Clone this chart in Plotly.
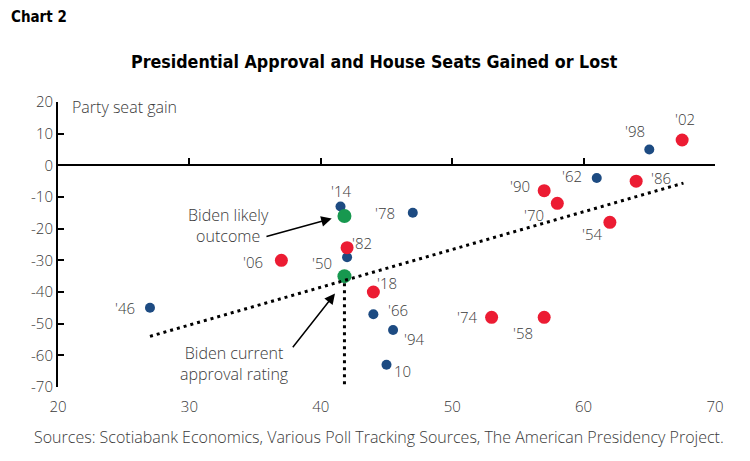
import plotly.graph_objects as go

# midterm years, October presidential approval, president's party seat change
years = ["'46", "'50", "'54", "'58", "'62", "'66", "'70", "'74", "'78", "'82",
         "'86", "'90", "'94", "'98", "'02", "'06", "10", "'14", "'18"]
approval = [27, 42, 62, 57, 61, 44, 58, 53, 47, 42,
            64, 57, 45.5, 65, 67.5, 37, 45, 41.5, 44]
seats = [-45, -29, -18, -48, -4, -47, -12, -48, -15, -26,
         -5, -8, -52, 5, 8, -30, -63, -13, -40]
party = ["D", "D", "R", "R", "D", "D", "R", "R", "D", "R",
         "R", "R", "D", "D", "R", "R", "D", "D", "R"]

trend_x = [27, 67.6]
trend_y = [-54, -5.6]

biden_approval = 41.8
biden_likely = -16
biden_current = -35
axis_floor = -70

x_ticks = [20, 30, 40, 50, 60, 70]
y_ticks = [-70, -60, -50, -40, -30, -20, -10, 0, 10, 20]
y_ticktext = ["-70", "-60", "-50", "-40", "-30", "-20", "-10", "0", "10", "20"]

# label offsets in pixels (dx, dy)
label_off = {
    "'46": (-25, 0), "'50": (-25, -6), "'54": (-18, -12), "'58": (-21, -16),
    "'62": (-25, 2), "'66": (25, 4), "'70": (-23, -12), "'74": (-25, 0),
    "'78": (-28, 0), "'82": (15, 5), "'86": (25, 3), "'90": (-24, 5),
    "'94": (21, -9), "'98": (-14, 19), "'02": (3, 21), "'06": (-28, -2),
    "10": (16, -6), "'14": (0, 16), "'18": (14, 9),
}

BLUE = "#1D4B82"
RED = "#EC1C33"
GREEN = "#17984F"
TXT = "#3a3a3a"
FONT = "Open Sans"
NARROW = "DejaVu Sans Condensed, Liberation Sans Narrow, sans-serif"

def light(size):
    return dict(family=FONT, size=size, color=TXT, weight=300)

fig = go.Figure()

# trend line (also carries the zero axis)
fig.add_trace(go.Scatter(x=trend_x, y=trend_y, mode="lines", xaxis="x2",
                         line=dict(color="black", width=3, dash="3px,4px"),
                         hoverinfo="skip"))
fig.add_trace(go.Scatter(x=[biden_approval, biden_approval], y=[biden_current, axis_floor],
                         mode="lines", line=dict(color="black", width=3, dash="3px,4px"),
                         hoverinfo="skip"))

for p, col, sz in [("D", BLUE, 10), ("R", RED, 13)]:
    idx = [i for i, v in enumerate(party) if v == p]
    fig.add_trace(go.Scatter(
        x=[approval[i] for i in idx], y=[seats[i] for i in idx],
        mode="markers", marker=dict(color=col, size=sz, line=dict(width=0)),
        cliponaxis=False))

fig.add_trace(go.Scatter(x=[biden_approval, biden_approval], y=[biden_likely, biden_current],
                         mode="markers", marker=dict(color=GREEN, size=14, line=dict(width=0)),
                         cliponaxis=False))

ann = []
for yr, ax_, sv in zip(years, approval, seats):
    dx, dy = label_off[yr]
    ann.append(dict(x=ax_, y=sv, text=yr, showarrow=False, xshift=dx, yshift=dy,
                    font=light(15)))

ann += [
    dict(x=20.9, y=18.4, text="Party seat gain", showarrow=False, xanchor="left",
         font=light(16)),
    dict(x=70.85, y=-62.5, text="President approval<br>rating (Oct.)", showarrow=False,
         xanchor="right", align="right", font=light(16)),
    dict(x=33.0, y=-19.0, text="Biden likely<br>outcome", showarrow=False, font=light(16)),
    dict(x=33.4, y=-62.6, text="Biden current<br>approval rating", showarrow=False,
         font=light(16)),
    dict(x=40.83, y=-16.8, ax=35.75, ay=-22.6, axref="x", ayref="y", text="",
         showarrow=True, arrowhead=2, arrowsize=1.4, arrowwidth=1.5, arrowcolor="black"),
    dict(x=41.08, y=-40.5, ax=37.78, ay=-57.9, axref="x", ayref="y", text="",
         showarrow=True, arrowhead=2, arrowsize=1.4, arrowwidth=1.5, arrowcolor="black"),
    dict(xref="paper", yref="paper", x=-0.075, y=1.298, xanchor="left", yanchor="middle",
         text="<b>Chart 2</b>", showarrow=False,
         font=dict(family=NARROW, size=15, color="black")),
    dict(xref="paper", yref="paper", x=0.481, y=1.14, xanchor="center", yanchor="middle",
         text="<b>Presidential Approval and House Seats Gained or Lost</b>", showarrow=False,
         font=dict(family=NARROW, size=17.7, color="black")),
    dict(xref="paper", yref="paper", x=0.488, y=-0.175, xanchor="center", yanchor="middle",
         text="Sources: Scotiabank Economics, Various Poll Tracking Sources, The American Presidency Project.",
         showarrow=False, font=light(16)),
]

fig.update_layout(
    width=750, height=461,
    margin=dict(l=50, r=43, t=94, b=82),
    paper_bgcolor="white", plot_bgcolor="white",
    showlegend=False,
    font=dict(family=FONT, size=15, color=TXT),
    xaxis=dict(range=[20, 70], tickvals=x_ticks, showline=False,
               showgrid=False, zeroline=False, ticks="", ticklabelstandoff=9,
               tickfont=light(15)),
    xaxis2=dict(range=[20, 70], overlaying="x", anchor="free", position=70 / 90,
                side="bottom", showline=True, linecolor="black", linewidth=2,
                ticks="inside", ticklen=6, tickwidth=2, tickcolor="black",
                tickvals=x_ticks, showticklabels=False,
                showgrid=False, zeroline=False),
    yaxis=dict(range=[-70, 20], tickvals=y_ticks, ticktext=y_ticktext, showline=True,
               linecolor="black", linewidth=2, ticks="inside", ticklen=6,
               tickwidth=2, tickcolor="black", showgrid=False, zeroline=False,
               tickfont=light(15)),
    annotations=ann,
)

fig.write_html("out.html")
